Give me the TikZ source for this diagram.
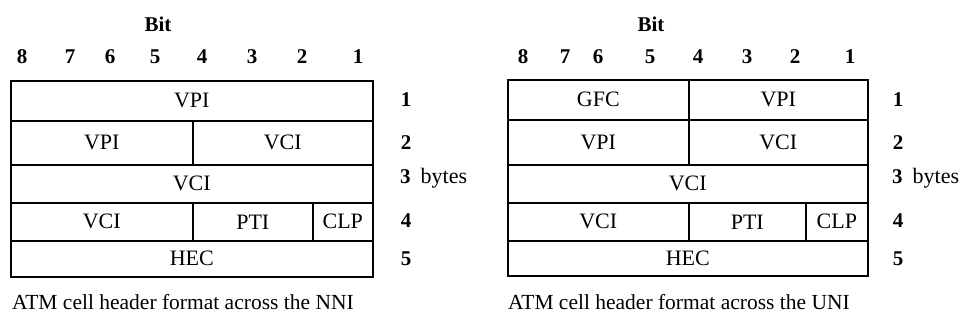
\documentclass[tikz,border=0pt]{standalone}
\usepackage{fontspec}
\setmainfont{Liberation Serif}
\begin{document}
\begin{tikzpicture}[x=1pt,y=-1pt,
  cell/.style={draw,line width=1.6pt,anchor=north west,inner sep=0pt,
    font=\fontsize{22}{24}\selectfont},
  bitnum/.style={font=\bfseries\fontsize{21}{23}\selectfont,inner sep=0pt},
  rowlbl/.style={font=\bfseries\fontsize{21}{23}\selectfont,inner sep=0pt},
  title/.style={font=\bfseries\fontsize{21}{23}\selectfont,inner sep=0pt},
  caption/.style={font=\fontsize{21.5}{23}\selectfont,inner sep=0pt,anchor=west}]
\useasboundingbox (0,0) rectangle (969,330);

% ===== Left: NNI =====
\node[title] (lbit) at (158,24) {Bit};
\foreach \n/\x in {8/22,7/70,6/110,5/155,4/202,3/252,2/302,1/358}
  \node[bitnum] (lb\n) at (\x,57) {\n};
\node[cell,minimum width=362,minimum height=40] (lr1) at (10,80) {VPI};
\node[cell,minimum width=182,minimum height=44] (lr2a) at (10,120) {VPI};
\node[cell,minimum width=180,minimum height=44] (lr2b) at (192,120) {VCI};
\node[cell,minimum width=362,minimum height=38] (lr3) at (10,164) {VCI};
\node[cell,minimum width=182,minimum height=38] (lr4a) at (10,202) {VCI};
\node[cell,minimum width=120,minimum height=38] (lr4b) at (192,202) {PTI};
\node[cell,minimum width=60,minimum height=38] (lr4c) at (312,202) {CLP};
\node[cell,minimum width=362,minimum height=36] (lr5) at (10,240) {HEC};
\node[rowlbl] (ln1) at (406,100) {1};
\node[rowlbl] (ln2) at (406,143) {2};
\node[rowlbl,anchor=west] (ln3) at (400,178) {3\hspace{10pt}\mdseries\fontsize{22}{24}\selectfont bytes};
\node[rowlbl] (ln4) at (406,221) {4};
\node[rowlbl] (ln5) at (406,259) {5};
\node[caption] (lcap) at (12,302) {ATM cell header format across the NNI};

% ===== Right: UNI =====
\node[title] (rbit) at (651,24) {Bit};
\foreach \n/\x in {8/523,7/565,6/598,5/650,4/698,3/747,2/795,1/850}
  \node[bitnum] (rb\n) at (\x,57) {\n};
\node[cell,minimum width=181,minimum height=40] (rr1a) at (507,79) {GFC};
\node[cell,minimum width=179,minimum height=40] (rr1b) at (688,79) {VPI};
\node[cell,minimum width=181,minimum height=45] (rr2a) at (507,119) {VPI};
\node[cell,minimum width=179,minimum height=45] (rr2b) at (688,119) {VCI};
\node[cell,minimum width=360,minimum height=38] (rr3) at (507,164) {VCI};
\node[cell,minimum width=181,minimum height=38] (rr4a) at (507,202) {VCI};
\node[cell,minimum width=117,minimum height=38] (rr4b) at (688,202) {PTI};
\node[cell,minimum width=62,minimum height=38] (rr4c) at (805,202) {CLP};
\node[cell,minimum width=360,minimum height=35] (rr5) at (507,240) {HEC};
\node[rowlbl] (rn1) at (898,100) {1};
\node[rowlbl] (rn2) at (898,143) {2};
\node[rowlbl,anchor=west] (rn3) at (892,178) {3\hspace{10pt}\mdseries\fontsize{22}{24}\selectfont bytes};
\node[rowlbl] (rn4) at (898,221) {4};
\node[rowlbl] (rn5) at (898,259) {5};
\node[caption] (rcap) at (508,302) {ATM cell header format across the UNI};
\end{tikzpicture}
\end{document}
